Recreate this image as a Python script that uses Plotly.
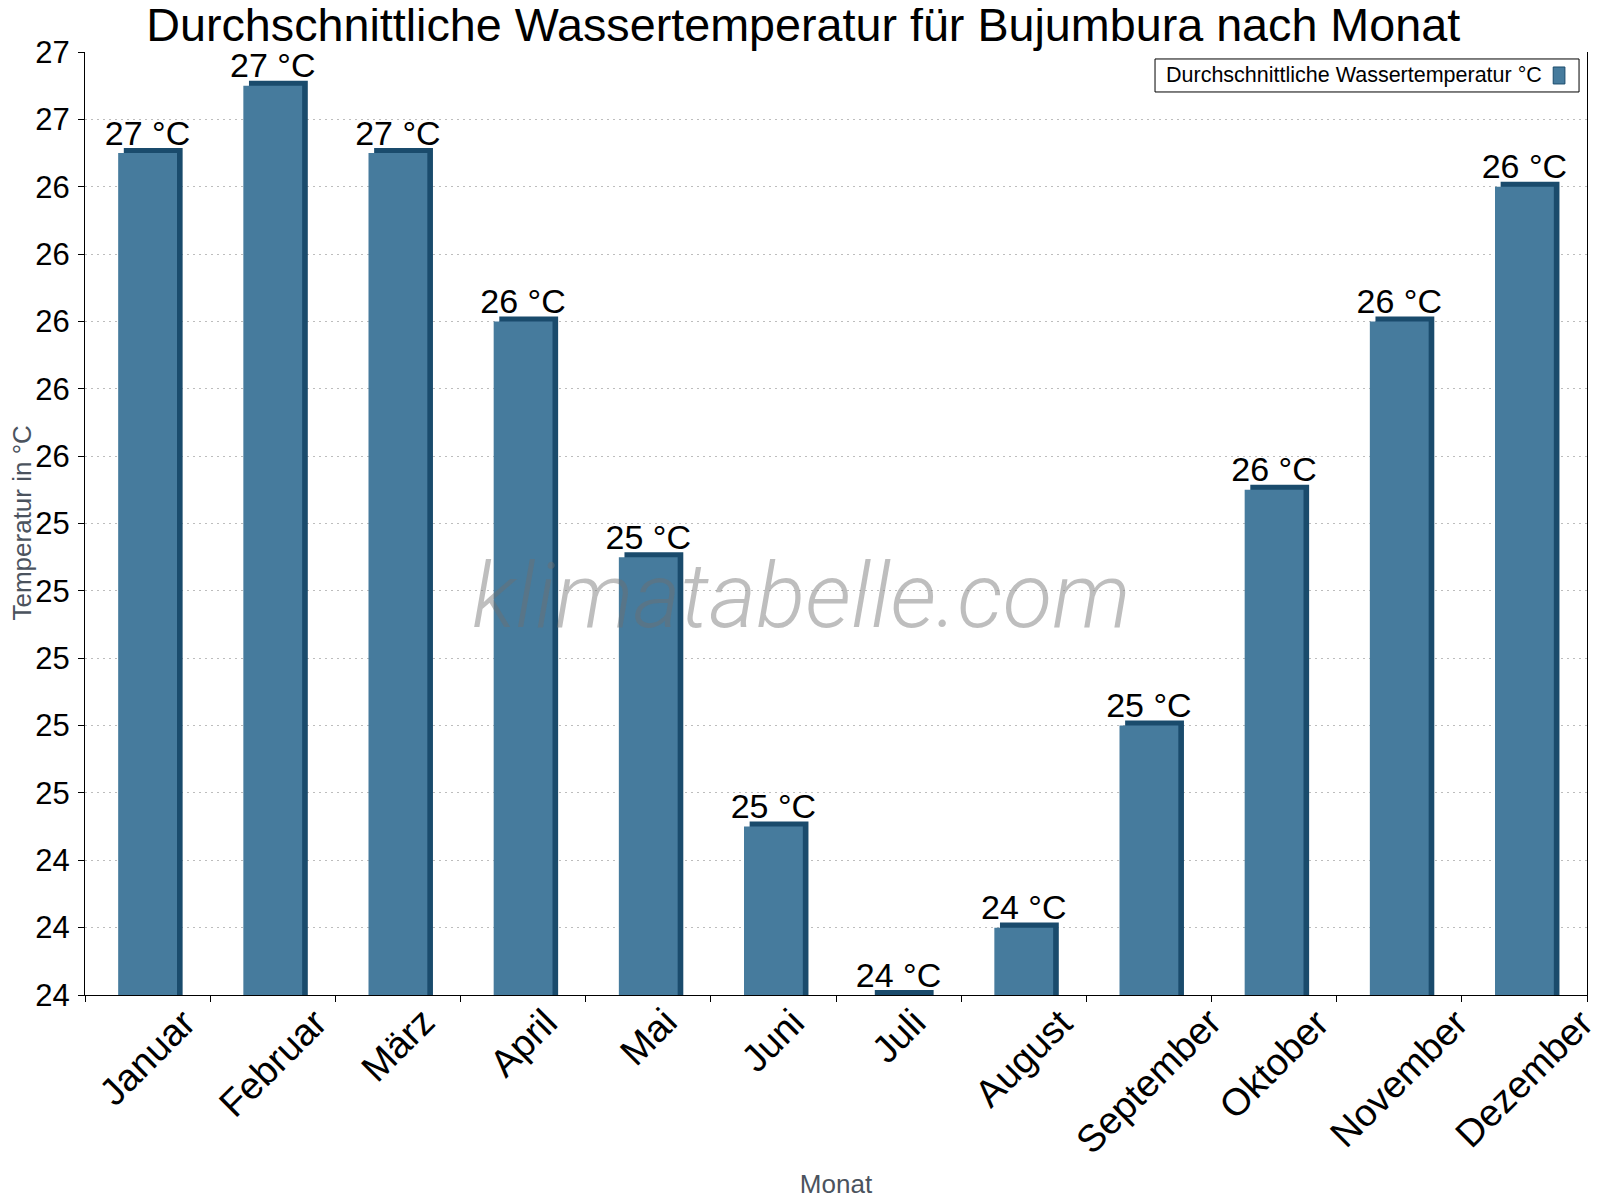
import math
import plotly.graph_objects as go

# ---------------- data ----------------
months = ["Januar", "Februar", "März", "April", "Mai", "Juni", "Juli",
          "August", "September", "Oktober", "November", "Dezember"]
water_temp = [26.5, 26.7, 26.5, 26.0, 25.3, 24.5, 24.0, 24.2, 24.8, 25.5, 26.0, 26.4]
series_name = "Durchschnittliche Wassertemperatur °C"
labels = [f"{math.floor(v + 0.5)} °C" for v in water_temp]

title_text = "Durchschnittliche Wassertemperatur für Bujumbura nach Monat"
x_title = "Monat"
y_title = "Temperatur in °C"
y_min, y_max, y_step = 24.0, 26.8, 0.2

# ---------------- style ----------------
FRONT = "#467b9d"
SIDE = "#1a4b6c"
BAR_W = 0.47
DEPTH_X = 0.045   # pseudo-3D depth in category units
DEPTH_Y = 0.015   # pseudo-3D depth in value units
FONT = "Liberation Sans, Arial, sans-serif"
AXIS_TITLE_COLOR = "#4b535e"

fig = go.Figure()

# back (dark) slab for the 3D look
fig.add_trace(go.Bar(
    x=months, y=[v + DEPTH_Y for v in water_temp],
    width=BAR_W, offset=-BAR_W / 2 + DEPTH_X,
    marker=dict(color=SIDE, line=dict(width=0)),
    showlegend=False, hoverinfo="skip",
))
# front face
fig.add_trace(go.Bar(
    x=months, y=water_temp,
    width=BAR_W, offset=-BAR_W / 2,
    marker=dict(color=FRONT, line=dict(width=0)),
    name=series_name, showlegend=False,
))
# value labels
fig.add_trace(go.Scatter(
    x=months, y=water_temp, mode="text", text=labels,
    textposition="top center",
    textfont=dict(size=34, color="black", family=FONT),
    showlegend=False, cliponaxis=False, hoverinfo="skip",
))

fig.update_layout(
    width=1600, height=1200,
    barmode="overlay",
    plot_bgcolor="white", paper_bgcolor="white",
    margin=dict(l=77, r=21, t=44, b=213, autoexpand=False),
    font=dict(family=FONT, color="black"),
    showlegend=False,
    title=dict(text=title_text, x=0.497, xref="container", xanchor="center",
               y=1.0, yref="container", yanchor="top",
               font=dict(size=46.7, color="black", family=FONT)),
    xaxis=dict(
        type="category", range=[-0.5, len(months) - 0.5],
        showline=True, linecolor="black", linewidth=1,
        ticks="outside", ticklen=6, tickcolor="black", tickson="boundaries",
        showticklabels=False, showgrid=False, zeroline=False,
        title=dict(text=x_title, font=dict(size=26, color=AXIS_TITLE_COLOR), standoff=179),
    ),
    yaxis=dict(
        range=[y_min, y_max], tick0=y_min, dtick=y_step, tickformat=".0f",
        showgrid=True, gridcolor="#bdbdbd", gridwidth=1, griddash="2px,4px",
        showline=True, mirror=True, linecolor="black", linewidth=1,
        ticks="outside", ticklen=6, tickcolor="black", ticklabelstandoff=2,
        tickfont=dict(size=31, color="black"), zeroline=False,
    ),
)

# y-axis title, placed at the far left edge as in the reference
fig.add_annotation(text=y_title, xref="paper", yref="paper",
                   x=-0.0426, y=0.5, xanchor="center", yanchor="middle",
                   textangle=-90, showarrow=False,
                   font=dict(size=26, color=AXIS_TITLE_COLOR, family=FONT))

# month labels, rotated and centred under each category (as in the reference)
for m in months:
    fig.add_annotation(text=m, x=m, xref="x", y=0, yref="paper",
                       xanchor="center", yanchor="top", yshift=-3,
                       textangle=-45, showarrow=False,
                       font=dict(size=38, color="black", family=FONT))

# legend box (symbol on the right, as in the reference)
fig.add_shape(type="rect", xref="paper", yref="paper",
              x0=0.7124, x1=0.9947, y0=0.9576, y1=0.9926,
              line=dict(color="black", width=1), fillcolor="white", layer="above")
fig.add_shape(type="rect", xref="paper", yref="paper",
              x0=0.9775, x1=0.9853, y0=0.9661, y1=0.9841,
              line=dict(color=SIDE, width=1), fillcolor=FRONT, layer="above")
fig.add_annotation(text=series_name, xref="paper", yref="paper",
                   x=0.7185, y=0.9751, xanchor="left", yanchor="middle",
                   showarrow=False, font=dict(size=21.5, color="black", family=FONT))

# watermark
fig.add_annotation(text="klimatabelle.com", xref="paper", yref="paper",
                   x=0.4773, y=0.4232, xanchor="center", yanchor="middle",
                   showarrow=False,
                   font=dict(size=91, color="rgba(110,110,110,0.45)",
                             family="Roboto, Liberation Sans, sans-serif",
                             style="italic", weight=300))

fig.write_html("out.html")
